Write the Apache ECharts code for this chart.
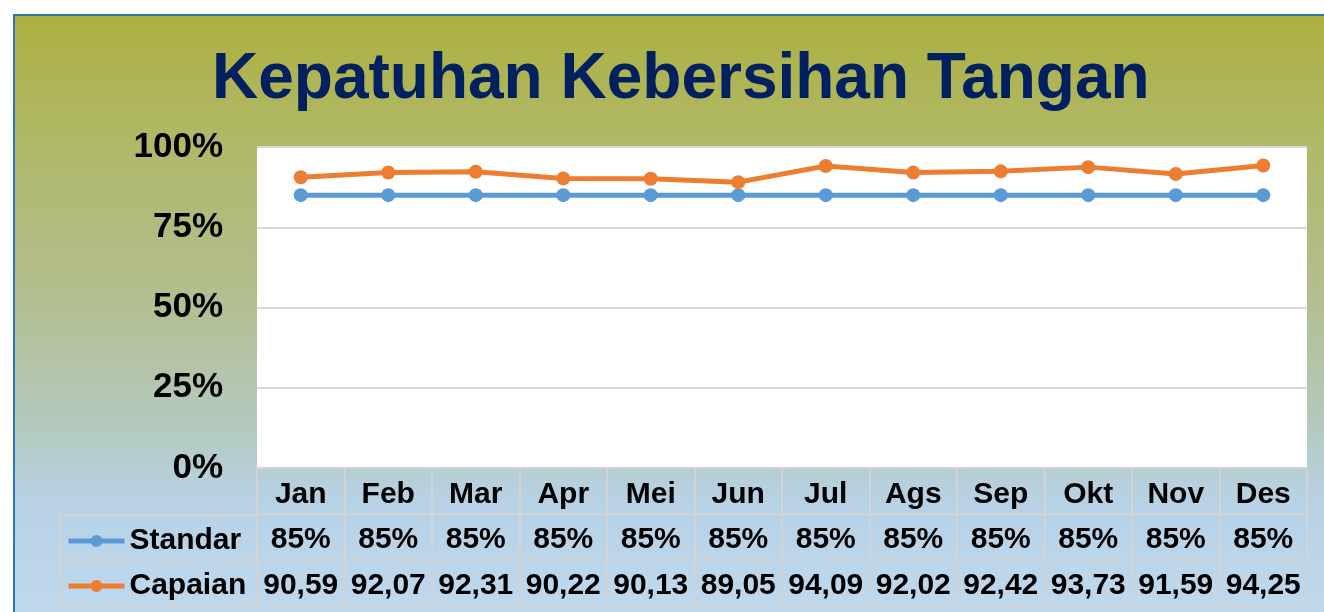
<!DOCTYPE html>
<html>
<head>
<meta charset="utf-8">
<title>Kepatuhan Kebersihan Tangan</title>
<script src="https://cdn.jsdelivr.net/npm/echarts@6/dist/echarts.min.js"></script>
<style>
  html, body { margin: 0; padding: 0; background: #fff; overflow: hidden; }
  #frame {
    position: absolute; left: 13px; top: 14px; width: 1320px; height: 610px;
    border-left: 2px solid #2e75b6; border-top: 2px solid #2e75b6;
    background: linear-gradient(to bottom, #adb03f 0%, #b0b867 20%, #b2be8e 45%, #b4c8b8 65%, #b7d2e6 80%, #bfd9ee 100%);
  }
  #chart { position: absolute; left: 0; top: 0; width: 1324px; height: 612px; }
</style>
</head>
<body>
<div id="frame"></div>
<div id="chart"></div>
<script>
// data
const bulan = ['Jan', 'Feb', 'Mar', 'Apr', 'Mei', 'Jun', 'Jul', 'Ags', 'Sep', 'Okt', 'Nov', 'Des']
const standar = [85, 85, 85, 85, 85, 85, 85, 85, 85, 85, 85, 85]
const capaian = [90.59, 92.07, 92.31, 90.22, 90.13, 89.05, 94.09, 92.02, 92.42, 93.73, 91.59, 94.25]
const yTicks = [0, 25, 50, 75, 100]

const FONT = '"Liberation Sans", Arial, sans-serif'
const GRID_LINE = '#d3d3d3'
const cellText = { fontFamily: FONT, fontWeight: 'bold', fontSize: 30, color: '#000' }

// tabel bawah: satu sumbu x per baris
function tableAxis (offset, margin, fmt, showLabel, showTick) {
  return {
    type: 'category',
    data: bulan,
    position: 'bottom',
    gridIndex: 0,
    offset: offset,
    axisLine: { show: true, lineStyle: { color: GRID_LINE, width: 2 } },
    axisTick: { show: showTick, interval: 0, length: 46, lineStyle: { color: GRID_LINE, width: 2 } },
    axisLabel: Object.assign({ show: showLabel, interval: 0, margin: margin, formatter: fmt }, cellText),
    splitLine: { show: false }
  }
}

const myChart = echarts.init(document.getElementById('chart'))
const options = {
  backgroundColor: 'transparent',
  animation: false,
  title: {
    text: 'Kepatuhan Kebersihan Tangan',
    left: 212,
    top: 48,
    padding: 0,
    textStyle: { fontFamily: FONT, fontWeight: 'bold', fontSize: 64, color: '#002060' }
  },
  legend: {
    data: ['Standar', 'Capaian'],
    orient: 'vertical',
    left: 66,
    top: 526,
    padding: 0,
    itemWidth: 56,
    itemHeight: 15,
    itemGap: 15,
    lineStyle: { width: 5 },
    textStyle: cellText
  },
  grid: {
    left: 257, right: 17, top: 147, bottom: 144,
    show: true, backgroundColor: '#fff', borderWidth: 0
  },
  xAxis: [
    tableAxis(0, 12, v => v, true, true),
    tableAxis(46, 11, (v, i) => standar[i] + '%', true, true),
    tableAxis(92, 11, (v, i) => capaian[i].toFixed(2).replace('.', ','), true, true),
    tableAxis(137, 8, v => '', false, false)
  ],
  yAxis: {
    type: 'value',
    min: yTicks[0],
    max: yTicks[yTicks.length - 1],
    interval: 25,
    axisLine: { show: false },
    axisTick: { show: false },
    axisLabel: { margin: 34, formatter: '{value}%', fontFamily: FONT, fontWeight: 'bold', fontSize: 35, color: '#000' },
    splitLine: { lineStyle: { color: '#d9d9d9', width: 2 } }
  },
  graphic: [
    // sel legenda di kiri tabel
    { type: 'polyline', shape: { points: [[257, 515], [60, 515], [60, 605], [257, 605]] }, style: { stroke: GRID_LINE, lineWidth: 2, fill: null } },
    { type: 'line', shape: { x1: 60, y1: 560, x2: 257, y2: 560 }, style: { stroke: GRID_LINE, lineWidth: 2 } }
  ],
  series: [{
    name: 'Standar',
    type: 'line',
    data: standar,
    color: '#5b9bd5',
    symbol: 'circle',
    symbolSize: 14,
    lineStyle: { width: 5 },
    z: 2
  }, {
    name: 'Capaian',
    type: 'line',
    data: capaian,
    color: '#ed7d31',
    symbol: 'circle',
    symbolSize: 14,
    lineStyle: { width: 5 },
    z: 3
  }]
}
myChart.setOption(options)
</script>
</body>
</html>
